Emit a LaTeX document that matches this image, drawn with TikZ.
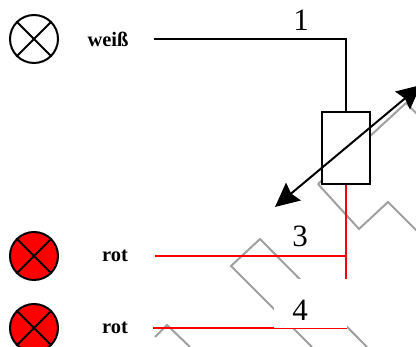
\documentclass[tikz,border=0pt]{standalone}
\usepackage{fontspec}
\setmainfont{Liberation Serif}
\usetikzlibrary{arrows.meta}
\definecolor{wire}{HTML}{FF0000}
\definecolor{zigzag}{HTML}{A0A0A0}
\tikzset{
  lamp/.style={circle,draw,line width=2pt,minimum size=48pt,inner sep=0pt},
  colorname/.style={font=\fontsize{20.5}{20.5}\selectfont\bfseries,inner sep=0pt},
  number/.style={font=\fontsize{31}{31}\selectfont,inner sep=0pt},
  line/.style={line width=2pt},
  redline/.style={line width=2pt,wire}
}

\begin{document}
\begin{tikzpicture}[x=1pt,y=-1pt]
    \useasboundingbox (0,0) rectangle (416,347);
    \clip (0,0) rectangle (416,347);
    % grey background lines
    \draw [zigzag,line width=2pt] (318,184) -- (406,103) -- (425,122);
    \draw [zigzag,line width=2pt] (318,184) -- (359,229) -- (388,202) -- (425,239);
    \draw [zigzag,line width=2pt] (367,347) -- (260,239) -- (231,266) -- (312,347);
    \draw [zigzag,line width=2pt] (155,337) -- (167,325) -- (190,347);
    % lamps
    \node [lamp] (white) at (34,39) {};
    \node [lamp,fill=wire] (red1) at (34,256) {};
    \node [lamp,fill=wire] (red2) at (34,328) {};
    \foreach \l in {white,red1,red2} {
      \draw [line] (\l.45) -- (\l.225);
      \draw [line] (\l.135) -- (\l.-45);
    }
    \node [colorname] (weiss) at (108,39) {weiß};
    \node [colorname] (rot1) at (115,256) {rot};
    \node [colorname] (rot2) at (115,328) {rot};
    % resistor and wires
    \node [draw,fill=white,line width=2pt,minimum width=48pt,minimum height=72pt,inner sep=0pt] (res) at (346,148) {};
    \coordinate (w1) at (154,39);
    \coordinate (r1) at (155,256);
    \coordinate (r2) at (153,328);
    \coordinate (j1) at (346,256);
    \coordinate (j2) at (346,279);
    \coordinate (e2) at (347,328);
    \draw [line] (w1) -| (res.north);
    \draw [redline] (res.south) -- (j2);
    \draw [redline] (r1) -- (j1);
    \draw [redline] (r2) -- (e2);
    \fill [white] (274,279) rectangle (347,328);
    % variable arrow
    \coordinate (a1) at (275,207);
    \coordinate (a2) at (421,85);
    \draw [line,{Stealth[length=24pt,width=23pt,inset=3pt]}-{Stealth[length=24pt,width=23pt,inset=3pt]}] (a1) -- (a2);
    \node [number] (n1) at (301,20) {1};
    \node [number] (n3) at (300,236) {3};
    \node [number] (n4) at (300,310) {4};
  \end{tikzpicture}
\end{document}
